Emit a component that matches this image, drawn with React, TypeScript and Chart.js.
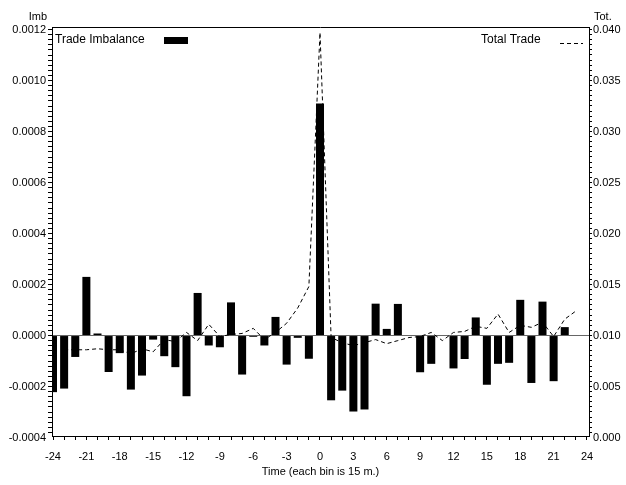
import React, { useEffect, useRef } from "react";
import { Chart, registerables } from "chart.js";

Chart.register(...registerables);

const FONT = "'Liberation Sans', Arial, sans-serif";

// Bins (each bin is 15 minutes), relative to the event
const binsImb: number[] = [
  -24, -23, -22, -21, -20, -19, -18, -17, -16, -15, -14, -13, -12, -11, -10, -9,
  -8, -7, -6, -5, -4, -3, -2, -1, 0, 1, 2, 3, 4, 5, 6, 7, 8, 9, 10, 11, 12, 13,
  14, 15, 16, 17, 18, 19, 20, 21, 22, 23,
];
// Trade Imbalance (left axis)
const tradeImbalance: number[] = [
  -0.000222, -0.000208, -0.000084, 0.00023, 0.000008, -0.000143, -0.000069,
  -0.000212, -0.000157, -0.000016, -0.000081, -0.000124, -0.000238, 0.000167,
  -0.000039, -0.000046, 0.00013, -0.000153, -0.000005, -0.000039, 0.000073,
  -0.000114, -0.000009, -0.000091, 0.00091, -0.000254, -0.000216, -0.000298,
  -0.00029, 0.000125, 0.000026, 0.000124, 0, -0.000144, -0.000111, 0,
  -0.000129, -0.000092, 0.000071, -0.000193, -0.000111, -0.000107, 0.00014,
  -0.000186, 0.000133, -0.000179, 0.000033, 0,
];

const binsTot: number[] = [
  -23, -22, -21, -20, -19, -18, -17, -16, -15, -14, -13, -12, -11, -10, -9, -8,
  -7, -6, -5, -4, -3, -2, -1, 0, 1, 2, 3, 4, 5, 6, 7, 8, 9, 10, 11, 12, 13, 14,
  15, 16, 17, 18, 19, 20, 21, 22, 23,
];
// Total Trade (right axis)
const totalTrade: number[] = [
  0.0086, 0.0086, 0.0086, 0.0087, 0.0086, 0.0086, 0.0082, 0.0087, 0.0084,
  0.0096, 0.0094, 0.0103, 0.0095, 0.0111, 0.0099, 0.0101, 0.0102, 0.0107,
  0.0096, 0.0103, 0.0112, 0.0127, 0.0148, 0.0397, 0.0098, 0.0093, 0.009,
  0.0093, 0.0096, 0.0092, 0.0095, 0.0098, 0.0099, 0.0103, 0.0095, 0.0103,
  0.0104, 0.0109, 0.0107, 0.0121, 0.0103, 0.011, 0.0108, 0.0113, 0.0099,
  0.0116, 0.0124,
];

const xTickValues: number[] = Array.from({ length: 49 }, (_, i) => i - 24);
const leftTickCount = 81; // -0.0004 .. 0.0012 by 0.00002
const rightTickCount = 81; // 0 .. 0.040 by 0.0005

const labels = {
  imb: "Imb",
  tot: "Tot.",
  legendBar: "Trade Imbalance",
  legendLine: "Total Trade",
  xTitle: "Time (each bin is 15 m.)",
};

const decorPlugin = {
  id: "decor",
  afterDraw(chart: any) {
    const { ctx, chartArea } = chart;
    const { left, right, top } = chartArea;
    ctx.save();
    ctx.strokeStyle = "#000";
    ctx.lineWidth = 1;
    ctx.beginPath();
    ctx.moveTo(left, top + 0.5);
    ctx.lineTo(right, top + 0.5);
    ctx.stroke();

    ctx.fillStyle = "#000";
    ctx.font = `11px ${FONT}`;
    ctx.textBaseline = "alphabetic";
    ctx.textAlign = "right";
    ctx.fillText(labels.imb, left - 5, 20);
    ctx.textAlign = "left";
    ctx.fillText(labels.tot, right + 5, 20);

    // legend
    ctx.font = `12px ${FONT}`;
    ctx.textBaseline = "middle";
    ctx.textAlign = "left";
    ctx.fillText(labels.legendBar, left + 3, top + 13);
    ctx.fillRect(left + 112, top + 10, 24, 7);
    ctx.fillText(labels.legendLine, left + 429, top + 13);
    ctx.setLineDash([4, 3]);
    ctx.beginPath();
    ctx.moveTo(left + 508, top + 16.5);
    ctx.lineTo(left + 531, top + 16.5);
    ctx.stroke();
    ctx.setLineDash([]);

    // x title
    ctx.font = `11px ${FONT}`;
    ctx.textAlign = "center";
    ctx.textBaseline = "middle";
    ctx.fillText(labels.xTitle, (left + right) / 2, 472);
    ctx.restore();
  },
};

export default function App() {
  const ref = useRef<HTMLCanvasElement | null>(null);

  useEffect(() => {
    document.body.style.margin = "0";
    const canvas = ref.current;
    if (!canvas) return;
    const chart = new Chart(canvas, {
      type: "bar",
      data: {
        datasets: [
          {
            type: "line",
            label: labels.legendLine,
            data: binsTot.map((x, i) => ({ x, y: totalTrade[i] })),
            yAxisID: "y2",
            borderColor: "#000",
            borderWidth: 1,
            borderDash: [4, 3],
            pointRadius: 0,
            tension: 0,
            fill: false,
            order: 0,
          },
          {
            type: "bar",
            label: labels.legendBar,
            data: binsImb.map((x, i) => ({ x, y: tradeImbalance[i] })),
            yAxisID: "y",
            backgroundColor: "#000",
            borderWidth: 0,
            categoryPercentage: 0.8,
            barPercentage: 0.9,
            order: 1,
          },
        ] as any,
      },
      options: {
        animation: false,
        responsive: false,
        devicePixelRatio: 1,
        layout: { padding: { top: 27, left: 0, right: 0, bottom: 0 } },
        plugins: {
          legend: { display: false },
          tooltip: { enabled: false },
          title: { display: false },
        },
        scales: {
          x: {
            type: "linear",
            offset: false,
            min: -24.09,
            max: 24.18,
            afterBuildTicks: (scale: any) => {
              scale.ticks = xTickValues.map((v) => ({ value: v }));
            },
            afterFit: (scale: any) => {
              scale.height = 49;
            },
            ticks: {
              autoSkip: false,
              maxRotation: 0,
              padding: 10,
              color: "#000",
              font: { family: FONT, size: 11 },
              callback: (v: any) => (Math.round(v) % 3 === 0 ? String(Math.round(v)) : ""),
            },
            grid: {
              offset: false,
              drawOnChartArea: false,
              drawTicks: true,
              tickLength: 4,
              tickColor: "#000",
            },
            border: { display: true, color: "#000" },
          },
          y: {
            type: "linear",
            position: "left",
            min: -0.000394,
            max: 0.00121,
            afterBuildTicks: (scale: any) => {
              scale.ticks = Array.from({ length: leftTickCount }, (_, i) => ({
                value: (i - 20) * 0.00002,
              }));
            },
            afterFit: (scale: any) => {
              scale.width = 52;
            },
            ticks: {
              autoSkip: false,
              padding: 2,
              color: "#000",
              font: { family: FONT, size: 11 },
              callback: (v: any) => {
                const k = Math.round(v / 0.00002);
                return k % 10 === 0 ? (k * 0.00002).toFixed(4) : "";
              },
            },
            grid: {
              drawOnChartArea: true,
              drawTicks: true,
              tickLength: 4,
              tickColor: (c: any) =>
                c.tick && c.tick.value < -0.000395 ? "rgba(0,0,0,0)" : "#000",
              color: (c: any) =>
                c.tick && Math.abs(c.tick.value) < 1e-9 ? "#666" : "rgba(0,0,0,0)",
            },
            border: { display: true, color: "#000" },
          },
          y2: {
            type: "linear",
            position: "right",
            min: 0.000147,
            max: 0.040245,
            afterBuildTicks: (scale: any) => {
              scale.ticks = Array.from({ length: rightTickCount }, (_, i) => ({
                value: i * 0.0005,
              }));
            },
            afterFit: (scale: any) => {
              scale.width = 37;
            },
            ticks: {
              autoSkip: false,
              padding: 1,
              color: "#000",
              font: { family: FONT, size: 11 },
              callback: (v: any) => {
                const k = Math.round(v / 0.0005);
                return k % 10 === 0 ? (k * 0.0005).toFixed(3) : "";
              },
            },
            grid: {
              drawOnChartArea: false,
              drawTicks: true,
              tickLength: 3,
              tickColor: (c: any) =>
                c.tick && c.tick.value < 0.0001 ? "rgba(0,0,0,0)" : "#000",
            },
            border: { display: true, color: "#000" },
          },
        },
      } as any,
      plugins: [decorPlugin],
    });
    return () => chart.destroy();
  }, []);

  return (
    <div style={{ position: "absolute", left: 0, top: 0, width: 626, height: 485, background: "#fff" }}>
      <canvas ref={ref} width={626} height={485} style={{ display: "block" }} />
    </div>
  );
}
